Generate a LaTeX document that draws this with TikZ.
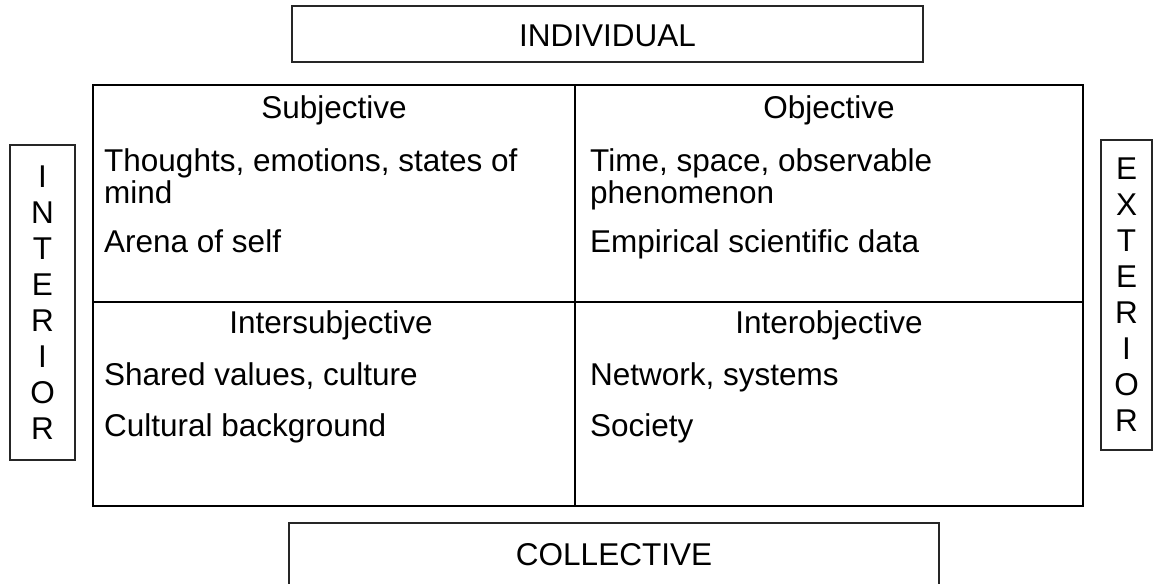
\documentclass[tikz,border=0pt]{standalone}
\usepackage{fontspec}
\setmainfont{Liberation Sans}
\begin{document}
\begin{tikzpicture}[x=1pt,y=-1pt,
  txt/.style={inner sep=0pt, font=\fontsize{31.5}{30}\selectfont},
  thinbox/.style={draw=black!85, line width=1.3pt, inner sep=0pt, font=\fontsize{31.5}{36}\selectfont},
  gridline/.style={draw=black, line width=2.6pt}]
\useasboundingbox (0,0) rectangle (1155,583);
\clip (0,0) rectangle (1155,583);
% top and bottom labels
\node[thinbox, minimum width=631pt, minimum height=56pt] (individual) at (607.5,34) {};
\node[txt] (indtext) at (607.5,36) {INDIVIDUAL};
\draw[thinbox] (289,523) rectangle (939,600);
\node[txt] (collective) at (614,555) {COLLECTIVE};
% side labels
\node[thinbox, minimum width=65pt, minimum height=315pt, align=center] (interior) at (42.5,302.5) {I\\N\\T\\E\\R\\I\\O\\R};
\node[thinbox, minimum width=51pt, minimum height=310pt, align=center] (exterior) at (1126.5,295) {E\\X\\T\\E\\R\\I\\O\\R};
% grid
\draw[gridline] (93,85) rectangle (1083,506);
\draw[gridline] (575,85) -- (575,506);
\draw[gridline] (93,302) -- (1083,302);
% upper left
\node[txt, anchor=base] (subj) at (334,118) {Subjective};
\node[txt, anchor=base west] (sub1) at (104,171) {Thoughts, emotions, states of};
\node[txt, anchor=base west] (sub2) at (104,203) {mind};
\node[txt, anchor=base west] (sub3) at (104,252) {Arena of self};
% upper right
\node[txt, anchor=base] (obj) at (829,118) {Objective};
\node[txt, anchor=base west] (obj1) at (590,171) {Time, space, observable};
\node[txt, anchor=base west] (obj2) at (590,203) {phenomenon};
\node[txt, anchor=base west] (obj3) at (590,252) {Empirical scientific data};
% lower left
\node[txt, anchor=base] (isubj) at (331,333) {Intersubjective};
\node[txt, anchor=base west] (isub1) at (104,385) {Shared values, culture};
\node[txt, anchor=base west] (isub2) at (104,436) {Cultural background};
% lower right
\node[txt, anchor=base] (iobj) at (829,333) {Interobjective};
\node[txt, anchor=base west] (iobj1) at (590,385) {Network, systems};
\node[txt, anchor=base west] (iobj2) at (590,436) {Society};
\end{tikzpicture}
\end{document}
